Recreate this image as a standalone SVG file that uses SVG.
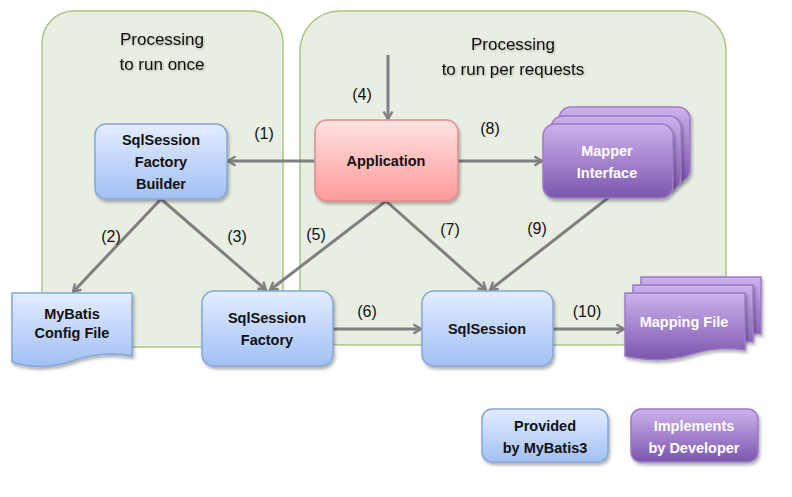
<svg xmlns="http://www.w3.org/2000/svg" width="792" height="497" viewBox="0 0 792 497">
<defs>
  <linearGradient id="gBlue" x1="0" y1="0" x2="0" y2="1">
    <stop offset="0" stop-color="#e3edff"/>
    <stop offset="1" stop-color="#a2c0f4"/>
  </linearGradient>
  <linearGradient id="gPink" x1="0" y1="0" x2="0" y2="1">
    <stop offset="0" stop-color="#ffe2e2"/>
    <stop offset="1" stop-color="#ff9a9a"/>
  </linearGradient>
  <linearGradient id="gPurple" x1="0" y1="0" x2="0" y2="1">
    <stop offset="0" stop-color="#cdb2ee"/>
    <stop offset="1" stop-color="#7c55ac"/>
  </linearGradient>
  <filter id="shadow" x="-10%" y="-10%" width="130%" height="140%">
    <feDropShadow dx="1.5" dy="2.5" stdDeviation="1.5" flood-color="#000" flood-opacity="0.3"/>
  </filter>
  <filter id="tshadow" x="-5%" y="-20%" width="110%" height="150%">
    <feDropShadow dx="1" dy="1" stdDeviation="0.8" flood-color="#000" flood-opacity="0.25"/>
  </filter>
  <marker id="ah" viewBox="0 0 12 12" refX="10" refY="6" markerWidth="12" markerHeight="12" markerUnits="userSpaceOnUse" orient="auto">
    <path d="M2.5,1.5 L10,6 L2.5,10.5" fill="none" stroke="#7f7f7f" stroke-width="2.4" stroke-linejoin="miter"/>
  </marker>
</defs>
<style>
  .region { fill: #e9eee2; stroke: #aac582; stroke-width: 1.5; }
  .title { font-family: "Liberation Sans", Arial, sans-serif; font-size: 17px; fill: #111; text-anchor: middle; }
  .blue { fill: url(#gBlue); stroke: #84a6d6; stroke-width: 1.5; }
  .pink { fill: url(#gPink); stroke: #de8c8c; stroke-width: 1.5; }
  .purple { fill: url(#gPurple); stroke: #9a7bc6; stroke-width: 1.5; }
  .lbl { font-family: "Liberation Sans", Arial, sans-serif; font-size: 14.5px; font-weight: bold; fill: #111; text-anchor: middle; }
  .wlbl { font-family: "Liberation Sans", Arial, sans-serif; font-size: 14.5px; font-weight: bold; fill: #ffffff; text-anchor: middle; }
  .num { font-family: "Liberation Sans", Arial, sans-serif; font-size: 16px; fill: #111; text-anchor: middle; }
  .conn { stroke: #7f7f7f; stroke-width: 3; fill: none; marker-end: url(#ah); }
</style>
<rect width="792" height="497" fill="#ffffff"/>

<g id="region-once">
  <rect class="region" x="42" y="11" width="241" height="336" rx="32" ry="32"/>
  <text class="title" x="162" y="45" filter="url(#tshadow)">Processing</text>
  <text class="title" x="162" y="70" filter="url(#tshadow)">to run once</text>
</g>
<g id="region-per-request">
  <rect class="region" x="300" y="11" width="426" height="334" rx="40" ry="40"/>
  <text class="title" x="513" y="50" filter="url(#tshadow)">Processing</text>
  <text class="title" x="513" y="75" filter="url(#tshadow)">to run per requests</text>
</g>

<g id="connectors">
  <line class="conn" x1="388" y1="55" x2="388" y2="119"/>
  <line class="conn" x1="315" y1="161" x2="228" y2="161"/>
  <line class="conn" x1="458" y1="161" x2="542" y2="161"/>
  <line class="conn" x1="161" y1="199" x2="73" y2="292"/>
  <line class="conn" x1="161" y1="199" x2="266" y2="290"/>
  <line class="conn" x1="386" y1="201" x2="270" y2="290"/>
  <line class="conn" x1="386" y1="201" x2="486" y2="290"/>
  <line class="conn" x1="608" y1="198" x2="490" y2="290"/>
  <line class="conn" x1="333" y1="329" x2="421" y2="329"/>
  <line class="conn" x1="553" y1="329" x2="624" y2="329"/>
  <text class="num" x="264" y="139">(1)</text>
  <text class="num" x="111" y="242">(2)</text>
  <text class="num" x="237" y="242">(3)</text>
  <text class="num" x="362" y="100">(4)</text>
  <text class="num" x="316" y="240">(5)</text>
  <text class="num" x="367" y="317">(6)</text>
  <text class="num" x="450" y="235">(7)</text>
  <text class="num" x="490" y="134">(8)</text>
  <text class="num" x="537" y="234">(9)</text>
  <text class="num" x="587" y="317">(10)</text>
</g>

<g id="node-builder">
  <rect class="blue" x="95" y="124" width="132" height="75" rx="11" ry="11" filter="url(#shadow)"/>
  <text class="lbl" x="161" y="145">SqlSession</text>
  <text class="lbl" x="161" y="167">Factory</text>
  <text class="lbl" x="161" y="189">Builder</text>
</g>

<g id="node-application">
  <rect class="pink" x="315" y="120" width="143" height="81" rx="12" ry="12" filter="url(#shadow)"/>
  <text class="lbl" x="386" y="166">Application</text>
</g>

<g id="node-mapper">
  <rect class="purple" x="559" y="107" width="131" height="75" rx="12" ry="12" filter="url(#shadow)"/>
  <rect class="purple" x="551" y="116" width="130" height="74" rx="12" ry="12" filter="url(#shadow)"/>
  <rect class="purple" x="543" y="124" width="130" height="74" rx="12" ry="12" filter="url(#shadow)"/>
  <text class="wlbl" x="607" y="156">Mapper</text>
  <text class="wlbl" x="607" y="178">Interface</text>
</g>

<g id="node-config">
  <path class="blue" d="M12,293 H132 V356 C110,352 92,354 72,361 C52,368 30,368 12,362 Z" filter="url(#shadow)"/>
  <text class="lbl" x="72" y="319">MyBatis</text>
  <text class="lbl" x="72" y="338">Config File</text>
</g>

<g id="node-factory">
  <rect class="blue" x="202" y="291" width="131" height="75" rx="12" ry="12" filter="url(#shadow)"/>
  <text class="lbl" x="267" y="323">SqlSession</text>
  <text class="lbl" x="267" y="345">Factory</text>
</g>

<g id="node-sqlsession">
  <rect class="blue" x="422" y="291" width="131" height="75" rx="12" ry="12" filter="url(#shadow)"/>
  <text class="lbl" x="487" y="334">SqlSession</text>
</g>

<g id="node-mapping">
  <path class="purple" d="M641,277 H761 V334 C740,331 725,333 705,339 C685,345 662,345 641,340 Z" filter="url(#shadow)"/>
  <path class="purple" d="M633,285 H753 V342 C732,339 717,341 697,347 C677,353 654,353 633,348 Z" filter="url(#shadow)"/>
  <path class="purple" d="M625,293 H745 V350 C724,347 709,349 689,355 C669,361 646,361 625,356 Z" filter="url(#shadow)"/>
  <text class="wlbl" x="684" y="327">Mapping File</text>
</g>

<g id="legend-provided">
  <rect class="blue" x="482" y="409" width="126" height="53" rx="10" ry="10" filter="url(#shadow)"/>
  <text class="lbl" x="545" y="431">Provided</text>
  <text class="lbl" x="545" y="453">by MyBatis3</text>
</g>
<g id="legend-implements">
  <rect class="purple" x="631" y="409" width="127" height="53" rx="10" ry="10" filter="url(#shadow)"/>
  <text class="wlbl" x="694" y="431">Implements</text>
  <text class="wlbl" x="694" y="453">by Developer</text>
</g>
</svg>
